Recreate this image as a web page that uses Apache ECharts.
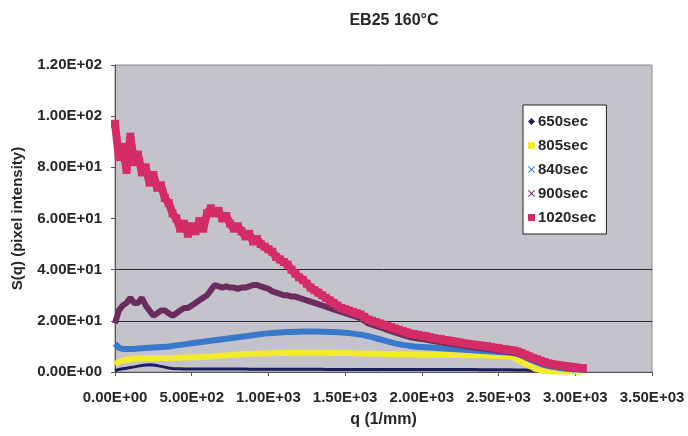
<!DOCTYPE html>
<html>
<head>
<meta charset="utf-8">
<script src="https://cdn.jsdelivr.net/npm/echarts@6/dist/echarts.min.js"></script>
<style>html,body{margin:0;padding:0;background:#fff;}#c{width:688px;height:436px;}</style>
</head>
<body>
<div id="c"></div>
<script>
var titleText = 'EB25 160°C';
var seriesNames = ['650sec', '805sec', '840sec', '900sec', '1020sec'];
var q = [0,25,50,75,100,125,150,175,200,225,
250,275,300,325,350,375,400,425,450,475,
500,525,550,575,600,625,650,675,700,725,
750,775,800,825,850,875,900,925,950,975,
1000,1025,1050,1075,1100,1125,1150,1175,1200,1225,
1250,1275,1300,1325,1350,1375,1400,1425,1450,1475,
1500,1525,1550,1575,1600,1625,1650,1675,1700,1725,
1750,1775,1800,1825,1850,1875,1900,1925,1950,1975,
2000,2025,2050,2075,2100,2125,2150,2175,2200,2225,
2250,2275,2300,2325,2350,2375,2400,2425,2450,2475,
2500,2525,2550,2575,2600,2625,2650,2675,2700,2725,
2750,2775,2800,2825,2850,2875,2900,2925,2950,2975,
3000,3025,3050];
var s650 = [0.5,1,1.3,1.5,1.8,2,2.3,2.5,2.7,2.8,
2.7,2.5,2.2,1.9,1.6,1.4,1.3,1.3,1.2,1.2,
1.2,1.2,1.2,1.2,1.2,1.2,1.2,1.2,1.2,1.2,
1.2,1.2,1.2,1.2,1.2,1.1,1.1,1.1,1.1,1.1,
1.1,1.1,1.1,1.1,1.1,1.1,1.1,1.1,1.1,1.1,
1.1,1.1,1.1,1.1,1.1,1,1,1,1,1,
1,1,1,1,1,1,1,1,1,1,
1,1,1,1,1,1,1,1,1,1,
1,1,1,1,1,1,1,1,1,1,
1,1,1,1,1,0.9,0.9,0.9,0.9,0.9,
0.9,0.9,0.9,0.9,0.8,0.8,0.8,0.8,0.7,0.7,
0.7,0.6,0.6,0.6,0.5,0.5,0.5,0.4,0.4,0.4,
0.3,0.3,0.3];
var s805 = [3,4,4.5,4.8,5,5.2,5.3,5.4,5.5,5.5,
5.5,5.5,5.5,5.5,5.5,5.5,5.6,5.6,5.7,5.7,
5.8,5.8,5.9,6,6,6.1,6.2,6.3,6.4,6.5,
6.6,6.7,6.8,6.9,7,7,7.1,7.1,7.2,7.2,
7.3,7.3,7.3,7.4,7.4,7.4,7.5,7.5,7.5,7.5,
7.5,7.5,7.5,7.5,7.5,7.5,7.5,7.4,7.4,7.4,
7.4,7.3,7.3,7.3,7.2,7.2,7.2,7.1,7.1,7.1,
7,7,7,6.9,6.9,6.9,6.8,6.8,6.8,6.8,
6.7,6.7,6.7,6.7,6.6,6.6,6.6,6.6,6.6,6.6,
6.5,6.5,6.5,6.5,6.5,6.5,6.4,6.4,6.4,6.3,
6.3,6.2,6.2,6,5.5,4.8,4,3.2,2.4,1.7,
1.1,0.7,0.4,0.3,0.2,0.2,0.2,0.2,0.2,0.2,
0.2,0.2,0.2];
var s840 = [11,9.5,9,9,9,9,9.2,9.3,9.4,9.5,
9.6,9.7,9.8,9.9,10,10.2,10.4,10.6,10.8,11,
11.2,11.4,11.6,11.8,12,12.2,12.4,12.6,12.8,13,
13.2,13.4,13.6,13.8,14,14.2,14.4,14.6,14.8,15,
15.1,15.2,15.3,15.4,15.5,15.6,15.6,15.7,15.7,15.8,
15.8,15.8,15.8,15.8,15.7,15.7,15.6,15.6,15.5,15.4,
15.3,15.2,15,14.8,14.6,14.3,14,13.6,13.2,12.8,
12.4,12,11.6,11.2,10.9,10.6,10.4,10.2,10,9.9,
9.8,9.7,9.6,9.5,9.4,9.3,9.2,9.1,9,8.9,
8.8,8.7,8.6,8.5,8.4,8.3,8.2,8.1,8,7.9,
7.8,7.7,7.6,7.5,7.3,7,6.5,5.8,5.1,4.4,
3.8,3.2,2.7,2.3,2,1.8,1.6,1.4,1.2,1.1,
1,0.9,0.8];
var s900 = [19,24,26,27,29,27,27,29,26,24,
22,23,24,24,23,22,23,24,25,25,
26,27,28,29,30,32,34,33.5,33,33.5,
33,33,32.5,33,33,33.5,34,34,33.5,33,
32.5,31.5,31,30.5,30,30,29.5,29.5,29,28.5,
28,27.5,27,26.5,26,25.5,25,24.5,24,23.5,
23,22.5,22,21.5,21,20,19,18.5,18,17.5,
17,16.5,16,15.5,15,14.5,14,13.6,13.4,13.1,
12.9,12.7,12.4,12.1,11.8,11.6,11.3,11.1,10.9,10.7,
10.5,10.2,10,9.8,9.6,9.4,9.2,9,8.8,8.6,
8.4,8.2,8,7.8,7.6,7.2,6.6,6,5.4,4.8,
4.3,3.8,3.3,2.9,2.5,2.3,2.1,1.9,1.7,1.5,
1.3,1.2,1.1];
var s1020 = [97,84,88,79,92,82,85,78,80,74,
77,72,73,68,66,62,60,56,58,54,
57,55,59,56,62,64,62,63,60,61,
58,56,57,55,53,54,51,52,50,49,
48,47,45,44,43,42,40,38.5,37,36,
34.5,33,32,31,30,29,28,27,26,25,
24.5,24,23.5,23,22.5,21.5,20.5,20,19.5,19,
18.5,18,17.5,17,16.5,16,15.5,15,14.8,14.5,
14.2,14,13.6,13.3,13,12.8,12.5,12.3,12,11.8,
11.5,11.2,11,10.8,10.6,10.4,10.2,10,9.8,9.5,
9.3,9,8.8,8.6,8.4,8,7.4,6.8,6.1,5.5,
5,4.4,3.9,3.4,3,2.8,2.6,2.4,2.2,2,
1.8,1.6,1.5];

function sci(v) {
  if (v === 0) return '0.00E+00';
  var e = Math.floor(Math.log10(Math.abs(v)) + 1e-9);
  var m = v / Math.pow(10, e);
  var es = (e < 0 ? '-' : '+') + (Math.abs(e) < 10 ? '0' : '') + Math.abs(e);
  return m.toFixed(2) + 'E' + es;
}
function pairs(arr) { return q.map(function (x, i) { return [x, arr[i]]; }); }

var FONT = '"Liberation Sans", Arial, sans-serif';
var TXT = '#262626';
var colors = ['#1e1e5a', '#f2ec2c', '#3a78cc', '#6a2c5c', '#d42c66'];
var widths = [3, 6, 6, 6, 8];
var allData = [s650, s805, s840, s900, s1020];
var xIcon = 'path://M0,1L1,0L5,4L9,0L10,1L6,5L10,9L9,10L5,6L1,10L0,9L4,5Z';
var icons = ['diamond', 'rect', xIcon, xIcon, 'rect'];

var series = seriesNames.map(function (n, i) {
  var s = {
    name: n,
    type: 'line',
    data: pairs(allData[i]),
    color: colors[i],
    symbol: 'none',
    lineStyle: { color: colors[i], width: widths[i] },
    z: 2 + i,
    silent: true,
    animation: false
  };
  if (i === 4) {
    s.symbol = 'rect';
    s.symbolSize = 8;
    s.showAllSymbol = true;
    s.itemStyle = { color: colors[i] };
  }
  return s;
});

var chart = echarts.init(document.getElementById('c'), null, { renderer: 'canvas' });
chart.setOption({
  animation: false,
  backgroundColor: '#ffffff',
  textStyle: { fontFamily: FONT },
  title: {
    text: titleText,
    left: 389,
    top: 8,
    textAlign: 'center',
    textStyle: { fontFamily: FONT, fontSize: 16, fontWeight: 'bold', color: TXT }
  },
  grid: {
    left: 115, right: 36, top: 65, bottom: 64,
    show: true, backgroundColor: '#c4c3cc', borderColor: '#8a8a8a', borderWidth: 1,
    containLabel: false
  },
  legend: {
    orient: 'vertical',
    left: 523, top: 105,
    padding: [9, 10, 9, 5],
    itemWidth: 7, itemHeight: 7,
    itemGap: 9,
    backgroundColor: '#ffffff',
    borderColor: '#222',
    borderWidth: 1,
    borderRadius: 0,
    textStyle: { fontFamily: FONT, fontSize: 15, fontWeight: 'bold', color: TXT, padding: [0, 0, 0, -2] },
    data: seriesNames.map(function (n, i) { return { name: n, icon: icons[i] }; })
  },
  xAxis: {
    type: 'value', min: 0, max: 3500, interval: 500,
    name: 'q (1/mm)', nameLocation: 'middle', nameGap: 40,
    nameTextStyle: { fontFamily: FONT, fontSize: 16, fontWeight: 'bold', color: TXT },
    axisLine: { show: true, onZero: false, lineStyle: { color: '#555', width: 1 } },
    axisTick: { show: true, length: 4, inside: false, lineStyle: { color: '#555' } },
    axisLabel: { formatter: sci, fontFamily: FONT, fontSize: 15, fontWeight: 'bold', color: TXT, margin: 18 },
    splitLine: { show: false }
  },
  yAxis: {
    type: 'value', min: 0, max: 120, interval: 20,
    name: 'S(q) (pixel intensity)', nameLocation: 'middle', nameGap: 90,
    nameTextStyle: { fontFamily: FONT, fontSize: 15, fontWeight: 'bold', color: TXT },
    axisLine: { show: true, lineStyle: { color: '#555', width: 1 } },
    axisTick: { show: true, length: 4, inside: false, lineStyle: { color: '#555' } },
    axisLabel: { formatter: sci, fontFamily: FONT, fontSize: 15, fontWeight: 'bold', color: TXT, margin: 13 },
    splitLine: {
      show: true, showMinLine: false, showMaxLine: false,
      lineStyle: { color: ['#2a2a2a', '#2a2a2a', 'rgba(0,0,0,0)', 'rgba(0,0,0,0)', 'rgba(0,0,0,0)'], width: 1 }
    }
  },
  series: series
});
</script>
</body>
</html>
